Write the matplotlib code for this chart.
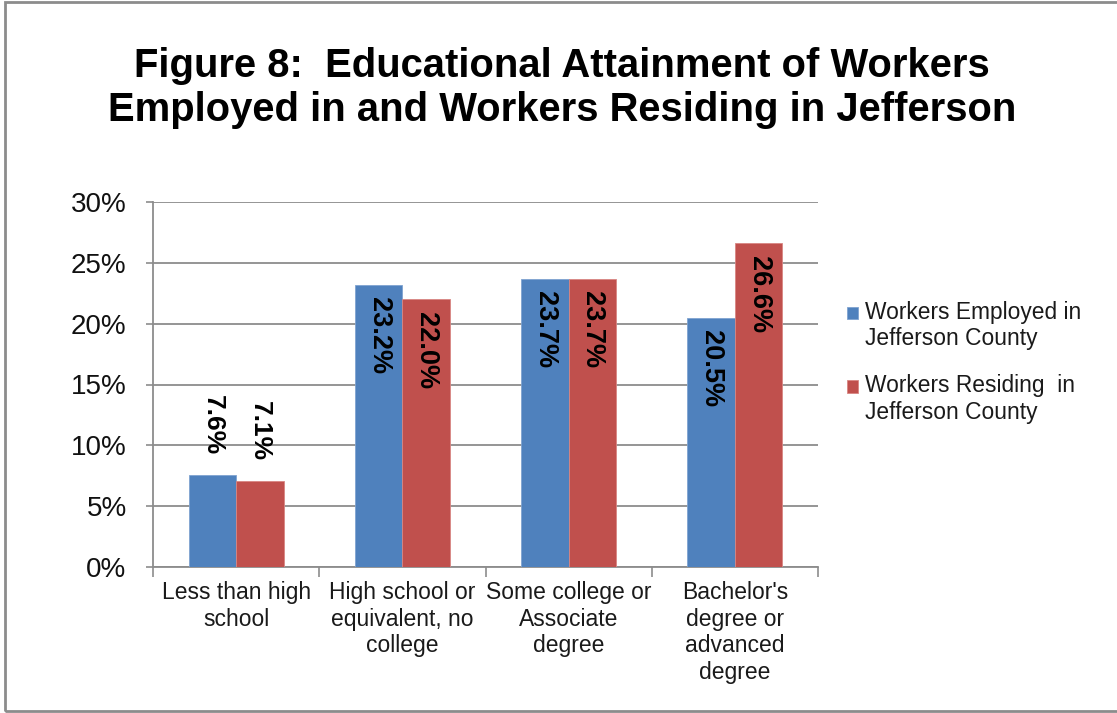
import matplotlib.pyplot as plt
import numpy as np
from matplotlib.patches import Rectangle
from matplotlib.container import BarContainer
from matplotlib.legend_handler import HandlerPatch, update_from_first_child

plt.rcParams['font.family'] = ['Liberation Sans', 'DejaVu Sans']

categories = ["Less than high\nschool",
              "High school or\nequivalent, no\ncollege",
              "Some college or\nAssociate\ndegree",
              "Bachelor's\ndegree or\nadvanced\ndegree"]
employed = [7.6, 23.2, 23.7, 20.5]
residing = [7.1, 22.0, 23.7, 26.6]
series_names = ["Workers Employed in\nJefferson County",
                "Workers Residing  in\nJefferson County"]
yticks = [0, 5, 10, 15, 20, 25, 30]

blue = '#4F81BD'
red = '#C0504D'
grid_gray = '#8C8C8C'


def top_line_box(legend, orig_handle, xdescent, ydescent, width, height, fontsize):
    # marker sits beside the first line of the two-line label, like Excel does
    return Rectangle((-xdescent, -ydescent + 0.58 * fontsize), width, height)


fig = plt.figure(figsize=(11.17, 7.13), dpi=100)
ax = fig.add_axes([153 / 1117, 1 - 567 / 713, (818 - 153) / 1117, (567 - 202) / 713])

x = np.arange(len(categories))
w = 0.285
b1 = ax.bar(x - w / 2, employed, w, color=blue, edgecolor='#7FA3D0', linewidth=0.6,
            label=series_names[0], zorder=3)
b2 = ax.bar(x + w / 2, residing, w, color=red, edgecolor='#D88683', linewidth=0.6,
            label=series_names[1], zorder=3)

for bars, vals in [(b1, employed), (b2, residing)]:
    for bar, v in zip(bars, vals):
        cx = bar.get_x() + bar.get_width() / 2
        if v > 15:
            ax.annotate(f"{v:.1f}%", (cx, v), xytext=(0, -9), textcoords='offset points',
                        rotation=270, ha='center', va='top', fontsize=19.5,
                        fontweight='bold', color='black', zorder=4)
        else:
            ax.annotate(f"{v:.1f}%", (cx, v), xytext=(0, 14), textcoords='offset points',
                        rotation=270, ha='center', va='bottom', fontsize=19,
                        fontweight='bold', color='black', zorder=4)

ax.set_xlim(-0.5, len(categories) - 0.5)
ax.set_ylim(0, 30)
ax.set_yticks(yticks)
ax.set_yticklabels([f"{t}%" for t in yticks], fontsize=20, color='#111111')
ax.yaxis.grid(True, color=grid_gray, linewidth=1.3, zorder=0)
ax.tick_params(axis='y', length=5, width=1.2, color=grid_gray, pad=14)

ax.set_xticks(x)
ax.set_xticklabels(categories, fontsize=16.5, color='#1a1a1a', linespacing=1.21)
ax.tick_params(axis='x', length=0, pad=10)
ax.set_xticks(np.arange(len(categories) + 1) - 0.5, minor=True)
ax.tick_params(axis='x', which='minor', length=7, width=1.2, color=grid_gray)

for s in ['top', 'right']:
    ax.spines[s].set_visible(False)
for s in ['left', 'bottom']:
    ax.spines[s].set_color(grid_gray)
    ax.spines[s].set_linewidth(1.3)

fig.text(562 / 1117, 1 - 88 / 713,
         "Figure 8:  Educational Attainment of Workers\nEmployed in and Workers Residing in Jefferson",
         ha='center', va='center', fontsize=28.8, fontweight='bold', linespacing=1.23)

fig.legend(handles=[b1, b2], loc='upper left', bbox_to_anchor=(826 / 1117, 1 - 280 / 713),
           frameon=False, fontsize=16.4, handlelength=0.5, handleheight=0.5,
           handletextpad=0.3, labelspacing=1.05, labelcolor='#1a1a1a',
           handler_map={BarContainer: HandlerPatch(patch_func=top_line_box,
                                                   update_func=update_from_first_child)})

fig.patches.append(Rectangle((5 / 1117, 2 / 713), 1.1, 709 / 713, transform=fig.transFigure,
                             fill=False, edgecolor='#8C8C8C', linewidth=2))

fig.savefig('out.png', dpi=100)
